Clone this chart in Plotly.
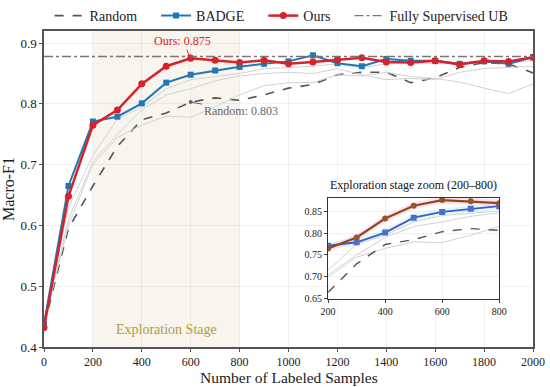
import plotly.graph_objects as go

# ---------------- data ----------------
samples = [0, 100, 200, 300, 400, 500, 600, 700, 800, 900, 1000,
           1100, 1200, 1300, 1400, 1500, 1600, 1700, 1800, 1900, 2000]
random_f1 = [0.435, 0.595, 0.665, 0.730, 0.774, 0.785, 0.803, 0.810, 0.806, 0.815, 0.826,
             0.832, 0.848, 0.852, 0.852, 0.835, 0.843, 0.860, 0.868, 0.866, 0.851]
badge_f1 = [0.438, 0.665, 0.771, 0.779, 0.801, 0.835, 0.848, 0.855, 0.861, 0.866, 0.870,
            0.880, 0.867, 0.862, 0.874, 0.871, 0.871, 0.866, 0.870, 0.866, 0.877]
ours_f1 = [0.432, 0.648, 0.765, 0.790, 0.833, 0.862, 0.875, 0.872, 0.868, 0.872, 0.866,
           0.869, 0.873, 0.876, 0.869, 0.868, 0.871, 0.865, 0.871, 0.870, 0.877]
other1_f1 = [0.440, 0.630, 0.715, 0.775, 0.795, 0.825, 0.840, 0.845, 0.850, 0.858, 0.860,
             0.862, 0.866, 0.860, 0.866, 0.868, 0.866, 0.868, 0.870, 0.866, 0.872]
other2_f1 = [0.440, 0.610, 0.705, 0.750, 0.790, 0.815, 0.825, 0.838, 0.846, 0.850, 0.852,
             0.850, 0.858, 0.848, 0.840, 0.842, 0.840, 0.852, 0.858, 0.860, 0.862]
other3_f1 = [0.440, 0.600, 0.700, 0.745, 0.765, 0.780, 0.778, 0.795, 0.815, 0.830, 0.835,
             0.835, 0.848, 0.846, 0.852, 0.845, 0.842, 0.836, 0.826, 0.817, 0.833]
ub_f1 = 0.878
band_width = 0.008  # inset shading half-width

x_ticks = [0, 200, 400, 600, 800, 1000, 1200, 1400, 1600, 1800, 2000]
y_ticks = [0.4, 0.5, 0.6, 0.7, 0.8, 0.9]
inset_x_ticks = [200, 400, 600, 800]
inset_y_ticks = [0.65, 0.70, 0.75, 0.80, 0.85]

FONT = "Liberation Serif, Times New Roman, serif"
RED = "#d7222b"
BLUE = "#2278b5"
GRAY_DASH = "#555555"
LIGHT = "#d2d2d2"
PAD = "\u00a0" * 4

fig = go.Figure()

# main legend traces first (legend order)
fig.add_trace(go.Scatter(x=samples, y=random_f1, mode="lines", name="Random" + PAD,
                         line=dict(color=GRAY_DASH, width=1.6, dash="dash")))

# other baselines (light gray)
for ys in (other1_f1, other2_f1, other3_f1):
    fig.add_trace(go.Scatter(x=samples, y=ys, mode="lines",
                             line=dict(color=LIGHT, width=1), showlegend=False,
                             hoverinfo="skip"))

fig.add_trace(go.Scatter(x=samples, y=badge_f1, mode="lines+markers", name="BADGE" + PAD,
                         line=dict(color=BLUE, width=2),
                         marker=dict(symbol="square", size=6, color=BLUE)))
fig.add_trace(go.Scatter(x=samples, y=ours_f1, mode="lines+markers", name="Ours" + PAD,
                         line=dict(color=RED, width=2.5),
                         marker=dict(symbol="circle", size=7, color=RED)))
fig.add_trace(go.Scatter(x=[samples[0], samples[-1]], y=[ub_f1, ub_f1], mode="lines",
                         name="Fully Supervised UB",
                         line=dict(color="#777777", width=1.4, dash="dashdot")))

# ---------------- inset ----------------
ix = samples[2:9]
def sl(a):
    return a[2:9]

for ys in (other1_f1, other2_f1, other3_f1):
    fig.add_trace(go.Scatter(x=ix, y=sl(ys), mode="lines", xaxis="x2", yaxis="y2",
                             line=dict(color=LIGHT, width=1), showlegend=False))
# shading bands
for ys, col in ((badge_f1, "rgba(160,240,240,0.35)"), (ours_f1, "rgba(255,190,230,0.45)")):
    fig.add_trace(go.Scatter(x=ix, y=[v + band_width for v in sl(ys)], mode="lines",
                             xaxis="x2", yaxis="y2", line=dict(width=0), showlegend=False))
    fig.add_trace(go.Scatter(x=ix, y=[v - band_width for v in sl(ys)], mode="lines",
                             xaxis="x2", yaxis="y2", line=dict(width=0), fill="tonexty",
                             fillcolor=col, showlegend=False))
fig.add_trace(go.Scatter(x=ix, y=sl(random_f1), mode="lines", xaxis="x2", yaxis="y2",
                         line=dict(color=GRAY_DASH, width=1.4, dash="dash"), showlegend=False))
fig.add_trace(go.Scatter(x=ix, y=sl(badge_f1), mode="lines+markers", xaxis="x2", yaxis="y2",
                         line=dict(color="#4a55c8", width=1.8),
                         marker=dict(symbol="square", size=6, color="#4a6fc8"),
                         showlegend=False))
fig.add_trace(go.Scatter(x=ix, y=sl(ours_f1), mode="lines+markers", xaxis="x2", yaxis="y2",
                         line=dict(color="#8e4a1c", width=2.2),
                         marker=dict(symbol="circle", size=6, color="#9a5526"),
                         showlegend=False))

# exploration band
fig.add_shape(type="rect", xref="x", yref="y", x0=200, x1=800, y0=0.4, y1=0.92,
              fillcolor="#f8f5ef", line=dict(width=0), layer="below")

axis_common = dict(showline=True, linecolor="#555555", linewidth=1.5, mirror=True,
                   ticks="outside", ticklen=3, tickcolor="#555555",
                   gridcolor="rgba(0,0,0,0.05)", zeroline=False, automargin=False)

fig.update_layout(
    width=550, height=387,
    margin=dict(l=44, r=17, t=31, b=40, autoexpand=False),
    paper_bgcolor="white", plot_bgcolor="white",
    font=dict(family=FONT, color="#222222", size=13),
    xaxis=dict(range=[0, 2000], tickvals=x_ticks, domain=[0, 1],
               tickfont=dict(size=12), **axis_common),
    yaxis=dict(range=[0.4, 0.92], tickvals=y_ticks, ticktext=[str(v) for v in y_ticks],
               title=dict(text="Macro-F1", font=dict(size=16), standoff=4),
               tickfont=dict(size=13), **axis_common),
    xaxis2=dict(domain=[0.581, 0.931], anchor="y2", range=[200, 800],
                tickvals=inset_x_ticks, tickfont=dict(size=10),
                showline=True, linecolor="#333333", linewidth=1.2, mirror=True,
                ticks="outside", ticklen=3, gridcolor="rgba(0,0,0,0.06)", zeroline=False),
    yaxis2=dict(domain=[0.152, 0.472], anchor="x2", range=[0.65, 0.88],
                tickvals=inset_y_ticks, tickformat=".2f", tickfont=dict(size=10),
                showline=True, linecolor="#333333", linewidth=1.2, mirror=True,
                ticks="outside", ticklen=3, gridcolor="rgba(0,0,0,0.06)", zeroline=False),
    legend=dict(orientation="h", xref="container", x=0.512, xanchor="center",
                yref="container", y=1.0, yanchor="top", traceorder="normal",
                font=dict(size=14), bgcolor="rgba(0,0,0,0)",
                tracegroupgap=0),
    showlegend=True,
)

# x-axis title as annotation (keeps clear of the tick labels)
fig.add_annotation(text="Number of Labeled Samples", xref="paper", yref="paper",
                   x=0.5, y=0, yshift=-30, xanchor="center", yanchor="middle",
                   showarrow=False, font=dict(size=15.5, color="#222222"))

# inset title
fig.add_annotation(text="Exploration stage zoom (200\u2013800)", xref="paper", yref="paper",
                   x=0.756, y=0.472, yshift=4, xanchor="center", yanchor="bottom",
                   showarrow=False, font=dict(size=12, color="#111111"))

# annotations
fig.add_annotation(x=600, y=0.875, text="Ours: 0.875", showarrow=True, arrowhead=2,
                   arrowsize=0.8, arrowwidth=1, arrowcolor=RED, ax=-8, ay=-17,
                   font=dict(color=RED, size=12))
fig.add_annotation(x=600, y=0.803, text="Random: 0.803", showarrow=True, arrowhead=6,
                   arrowsize=1, arrowwidth=1, arrowcolor="#666666", ax=50, ay=9,
                   font=dict(color="#666666", size=12))
fig.add_annotation(x=500, y=0.428, text="Exploration Stage", showarrow=False,
                   font=dict(color="#b39a3a", size=14))

fig.write_html("out.html", config={"displayModeBar": False},
               post_script="document.body.style.margin='0';document.body.style.padding='0';")
